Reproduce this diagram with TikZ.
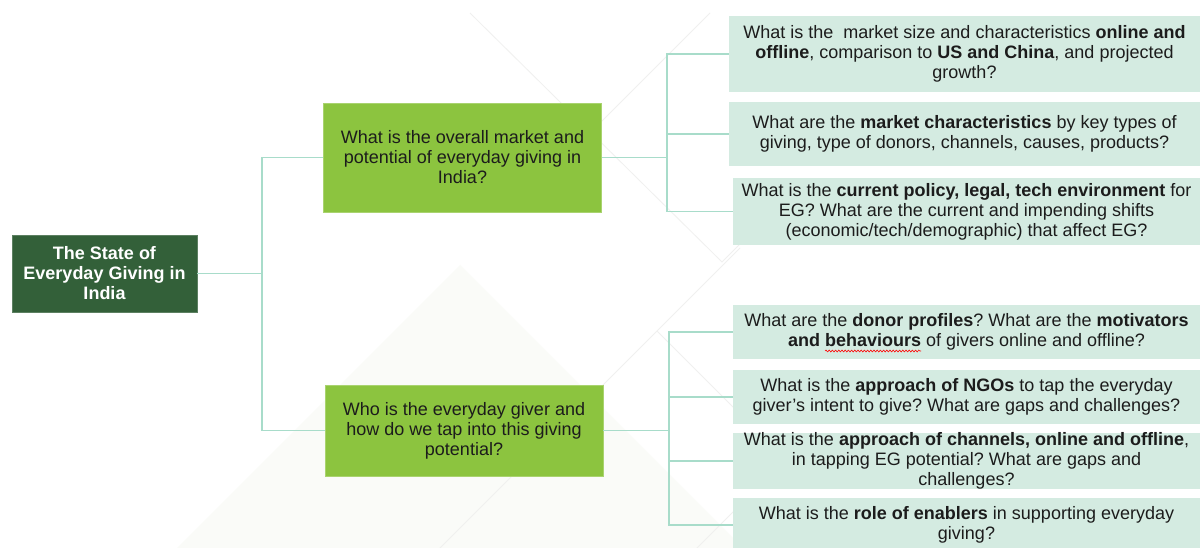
\documentclass[tikz,border=0pt]{standalone}
\usepackage{fontspec}
\setmainfont{Liberation Sans}
\usetikzlibrary{decorations.pathmorphing}
\definecolor{rootgreen}{HTML}{336039}
\definecolor{midgreen}{HTML}{8CC43F}
\definecolor{mint}{HTML}{D4EBE1}
\definecolor{connc}{HTML}{A8DCCA}
\definecolor{txt}{HTML}{1C1C1C}
\definecolor{faint}{HTML}{F0F0EF}
\definecolor{tri}{HTML}{FAFBF8}
\frenchspacing
\begin{document}
\begin{tikzpicture}[x=1pt,y=-1pt,
  every node/.style={font=\fontsize{18}{20}\selectfont\frenchspacing, align=center, inner sep=0pt},
  rootbox/.style={fill=rootgreen, draw=rootgreen!80!white, line width=0.6pt, text=white,
    font=\fontsize{18}{20}\selectfont\bfseries, minimum width=185pt, minimum height=77pt},
  midbox/.style={fill=midgreen, draw=midgreen!75!white, line width=0.6pt, text=txt, minimum width=278pt},
  qbox/.style={fill=mint, text=txt},
  qwide/.style={qbox, minimum width=471pt},
  qnarrow/.style={qbox, minimum width=467pt},
  connector/.style={draw=connc, line width=1.6pt},
  faintline/.style={draw=faint, line width=0.8pt},
  spellwave/.style={draw=red, line width=0.6pt, decorate,
    decoration={snake, amplitude=0.9pt, segment length=3.2pt}}]
\useasboundingbox (0,0) rectangle (1200,548);
\fill[white] (0,0) rectangle (1200,548);
% faint background decoration
\fill[tri] (460,265) -- (170,555) -- (750,555) -- cycle;
\draw[faintline] (470,13) -- (722,262) -- (760,224);
\draw[faintline] (710,13) -- (560,163);
\draw[faintline] (432,556) -- (740,248);
\draw[faintline] (657,331) -- (735,409);
\draw[faintline] (690,555) -- (740,505);

% nodes
\node[rootbox] (root) at (104.5,273.5) {The State of\\Everyday Giving in\\India};
\node[midbox, minimum height=109pt] (m1) at (462.5,157.5)
  {What is the overall market and\\potential of everyday giving in\\India?};
\node[midbox, minimum height=91pt] (m2) at (464,430.5)
  {Who is the everyday giver and\\how do we tap into this giving\\potential?};

\node[qwide, minimum height=76pt] (r1) at (964.5,54)
  {What is the \ market size and characteristics \textbf{online and}\\\textbf{offline}, comparison to \textbf{US and China}, and projected\\growth?};
\node[qwide, minimum height=64pt] (r2) at (964.5,134)
  {What are the \textbf{market characteristics} by key types of\\giving, type of donors, channels, causes, products?};
\node[qnarrow, minimum height=67pt] (r3) at (966.5,211.5)
  {What is the \textbf{current policy, legal, tech environment} for\\EG? What are the current and impending shifts\\(economic/tech/demographic) that affect EG?};

\node[qnarrow, minimum height=54pt] (r4) at (966.5,332)
  {What are the \textbf{donor profiles}? What are the \textbf{motivators}\\\textbf{and behaviours} of givers online and offline?};
\node[qnarrow, minimum height=54pt] (r5) at (966.5,397)
  {What is the \textbf{approach of NGOs} to tap the everyday\\giver’s intent to give? What are gaps and challenges?};
\node[qnarrow, minimum height=54pt] (r6) at (966.5,461)
  {What is the \textbf{approach of channels, online and offline},\\in tapping EG potential? What are gaps and\\challenges?};
\node[qnarrow, minimum height=54pt] (r7) at (966.5,525)
  {What is the \textbf{role of enablers} in supporting everyday\\giving?};

% spell-check squiggle under "behaviours"
\draw[spellwave] (825,351) -- (921,351);

% junction coordinates
\coordinate (t0) at (262,273.5);
\coordinate (s1) at (667,157.5);
\coordinate (s2) at (669,430.5);

% connectors
\draw[connector] (root.east) -- (t0);
\draw[connector] (m1.west) -| (t0) |- (m2.west);
\draw[connector] (m1.east) -- (s1);
\draw[connector] (r1.west) -| (s1) |- (r3.west);
\draw[connector] (s1) |- (r2.west);
\draw[connector] (m2.east) -- (s2);
\draw[connector] (r4.west) -| (s2) |- (r7.west);
\draw[connector] (s2) |- (r5.west);
\draw[connector] (s2) |- (r6.west);
\end{tikzpicture}
\end{document}
